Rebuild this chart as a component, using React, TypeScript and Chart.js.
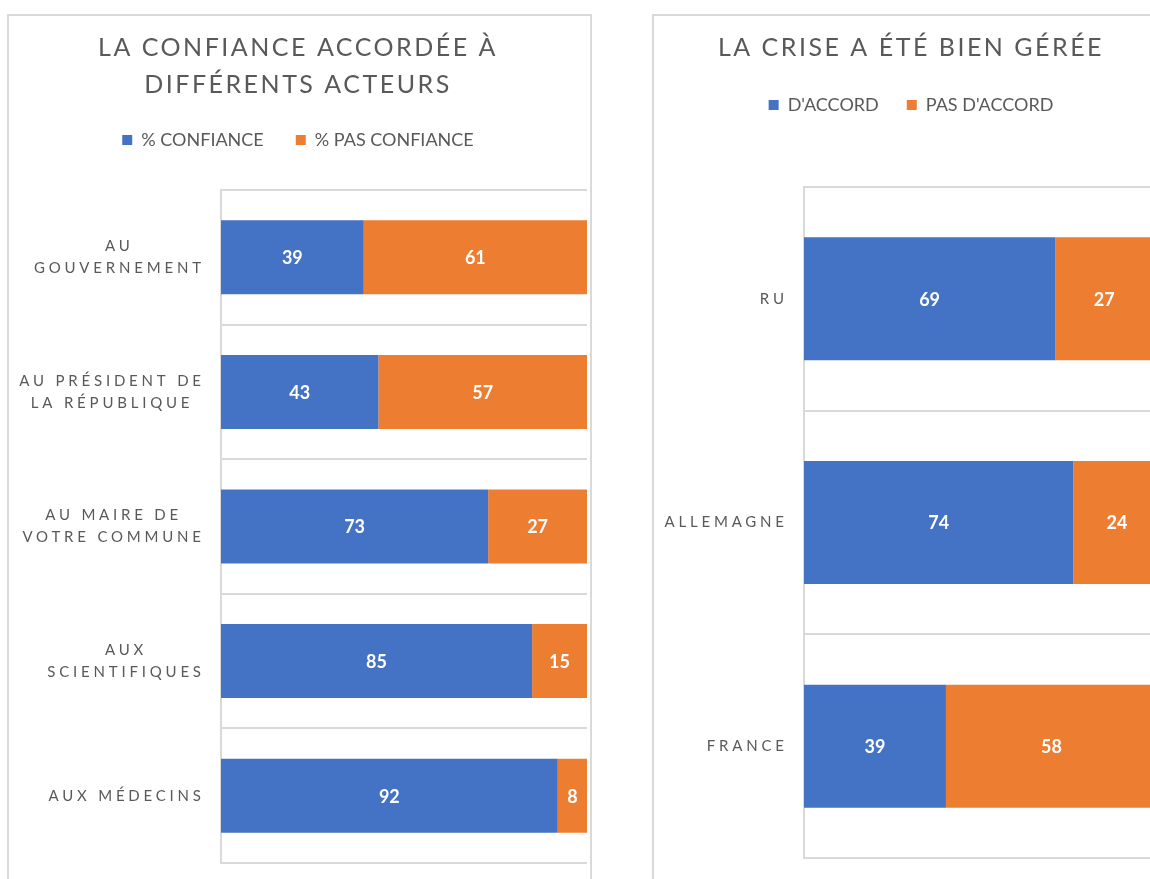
import React, { useEffect, useRef } from "react";
import { Chart, registerables } from "chart.js";

Chart.register(...registerables);

// ---------- data ----------
const leftTitle = ["LA CONFIANCE ACCORDÉE À", "DIFFÉRENTS ACTEURS"];
const leftCategories = [
  ["AU", "GOUVERNEMENT"],
  ["AU PRÉSIDENT DE", "LA RÉPUBLIQUE"],
  ["AU MAIRE DE", "VOTRE COMMUNE"],
  ["AUX", "SCIENTIFIQUES"],
  ["AUX MÉDECINS"],
];
const leftSeriesNames = ["% CONFIANCE", "% PAS CONFIANCE"];
const confiance = [39, 43, 73, 85, 92];
const pasConfiance = [61, 57, 27, 15, 8];

const rightTitle = "LA CRISE A ÉTÉ BIEN GÉRÉE";
const rightCategories = [["RU"], ["ALLEMAGNE"], ["FRANCE"]];
const rightSeriesNames = ["D'ACCORD", "PAS D'ACCORD"];
const accord = [69, 74, 39];
const pasAccord = [27, 24, 58];

const BLUE = "#4472C4";
const ORANGE = "#ED7D31";
const GRID = "#D9D9D9";
const TEXT = "#595959";
const FONT = "Lato";

// ---------- plugins ----------
const titleSpacingPlugin = {
  id: "titleSpacing",
  afterLayout(chart: any) {
    const t = chart.titleBlock;
    if (t && !t.__wrapped) {
      const orig = t.draw.bind(t);
      t.draw = (...args: any[]) => {
        const c = chart.ctx;
        c.save();
        c.letterSpacing = "2.5px";
        orig(...args);
        c.restore();
      };
      t.__wrapped = true;
    }
  },
};

const yLabelPlugin = {
  id: "yLabels",
  afterDraw(chart: any, _args: any, opts: any) {
    const { ctx, chartArea } = chart;
    const yScale = chart.scales.y;
    const labels = chart.data.labels as any[];
    ctx.save();
    ctx.font = `${opts.size}px ${FONT}`;
    ctx.fillStyle = TEXT;
    ctx.letterSpacing = `${opts.spacing}px`;
    ctx.textBaseline = "middle";
    ctx.textAlign = "left";
    labels.forEach((lab, i) => {
      const lines: string[] = Array.isArray(lab) ? lab : [lab];
      const widths = lines.map((l) => ctx.measureText(l).width - opts.spacing);
      const maxW = Math.max(...widths);
      const right = chartArea.left - opts.gap;
      const cx = right - maxW / 2;
      const cy = yScale.getPixelForTick(i);
      lines.forEach((l, j) => {
        ctx.fillText(l, cx - widths[j] / 2, cy + (j - (lines.length - 1) / 2) * opts.lineHeight);
      });
    });
    ctx.restore();
  },
};

const valueLabelPlugin = {
  id: "valueLabels",
  afterDatasetsDraw(chart: any) {
    const ctx = chart.ctx;
    ctx.save();
    ctx.font = `bold 18px ${FONT}`;
    ctx.fillStyle = "#FFFFFF";
    ctx.textAlign = "center";
    ctx.textBaseline = "middle";
    chart.data.datasets.forEach((ds: any, di: number) => {
      const meta = chart.getDatasetMeta(di);
      meta.data.forEach((bar: any, i: number) => {
        const { x, y, base } = bar.getProps(["x", "y", "base"], true);
        ctx.fillText(String(ds.data[i]), (x + base) / 2, y + 1);
      });
    });
    ctx.restore();
  },
};

type Cfg = {
  title: string | string[];
  titlePadBottom: number;
  categories: string[][];
  names: string[];
  a: number[];
  b: number[];
  legendPad: number;
  yWidth: number;
  xHeight: number;
  padRight: number;
  padBottom: number;
};

function BarChart({ cfg, width, height }: { cfg: Cfg; width: number; height: number }) {
  const ref = useRef<HTMLCanvasElement | null>(null);
  useEffect(() => {
    if (!ref.current) return;
    const chart = new Chart(ref.current, {
      type: "bar",
      data: {
        labels: cfg.categories as any,
        datasets: [
          { label: cfg.names[0], data: cfg.a, backgroundColor: BLUE, borderWidth: 0 },
          { label: cfg.names[1], data: cfg.b, backgroundColor: ORANGE, borderWidth: 0 },
        ],
      },
      options: {
        indexAxis: "y",
        responsive: false,
        animation: false,
        devicePixelRatio: 1,
        datasets: { bar: { barPercentage: 0.55, categoryPercentage: 1 } },
        layout: { padding: { left: 0, top: 0, right: cfg.padRight, bottom: cfg.padBottom } },
        scales: {
          x: {
            position: "top",
            stacked: true,
            min: 0,
            max: 100,
            grid: { display: false },
            border: { display: false },
            ticks: { display: false },
            afterFit: (s: any) => {
              s.height = cfg.xHeight;
            },
          },
          y: {
            stacked: true,
            grid: { display: true, color: GRID, lineWidth: 2, drawTicks: false, offset: true },
            border: { display: true, color: GRID, width: 2 },
            ticks: { display: false },
            afterFit: (s: any) => {
              s.width = cfg.yWidth;
            },
          },
        },
        plugins: {
          title: {
            display: true,
            text: cfg.title,
            color: TEXT,
            font: { family: FONT, size: 25, weight: "normal", lineHeight: 37 / 25 },
            padding: { top: 13.5, bottom: cfg.titlePadBottom },
          },
          legend: {
            display: true,
            position: "top",
            labels: {
              boxWidth: 10,
              boxHeight: 10,
              padding: cfg.legendPad,
              color: TEXT,
              font: { family: FONT, size: 18 },
            },
          },
          tooltip: { enabled: false },
          yLabels: { size: 15, spacing: 3.8, gap: 20, lineHeight: 22 },
        } as any,
      },
      plugins: [titleSpacingPlugin, yLabelPlugin, valueLabelPlugin],
    });
    return () => chart.destroy();
  }, []);
  return <canvas ref={ref} width={width} height={height} style={{ display: "block", width, height }} />;
}

const leftCfg: Cfg = {
  title: leftTitle,
  titlePadBottom: -4.5,
  categories: leftCategories,
  names: leftSeriesNames,
  a: confiance,
  b: pasConfiance,
  legendPad: 32,
  yWidth: 212,
  xHeight: 31,
  padRight: 3,
  padBottom: 33,
};

const rightCfg: Cfg = {
  title: rightTitle,
  titlePadBottom: 1.5,
  categories: rightCategories,
  names: rightSeriesNames,
  a: accord,
  b: pasAccord,
  legendPad: 28,
  yWidth: 150,
  xHeight: 63,
  padRight: 5,
  padBottom: 38,
};

export default function App() {
  return (
    <div
      style={{
        position: "fixed",
        left: 0,
        top: 0,
        width: 1150,
        height: 879,
        overflow: "hidden",
        background: "#FFFFFF",
      }}
    >
      <div
        style={{
          position: "absolute",
          left: 7,
          top: 14,
          width: 585,
          height: 920,
          border: `2px solid ${GRID}`,
          boxSizing: "border-box",
        }}
      />
      <div
        style={{
          position: "absolute",
          left: 652,
          top: 14,
          width: 524,
          height: 920,
          border: `2px solid ${GRID}`,
          boxSizing: "border-box",
        }}
      />
      <div style={{ position: "absolute", left: 9, top: 16 }}>
        <BarChart cfg={leftCfg} width={581} height={880} />
      </div>
      <div style={{ position: "absolute", left: 654, top: 16 }}>
        <BarChart cfg={rightCfg} width={519} height={880} />
      </div>
    </div>
  );
}
